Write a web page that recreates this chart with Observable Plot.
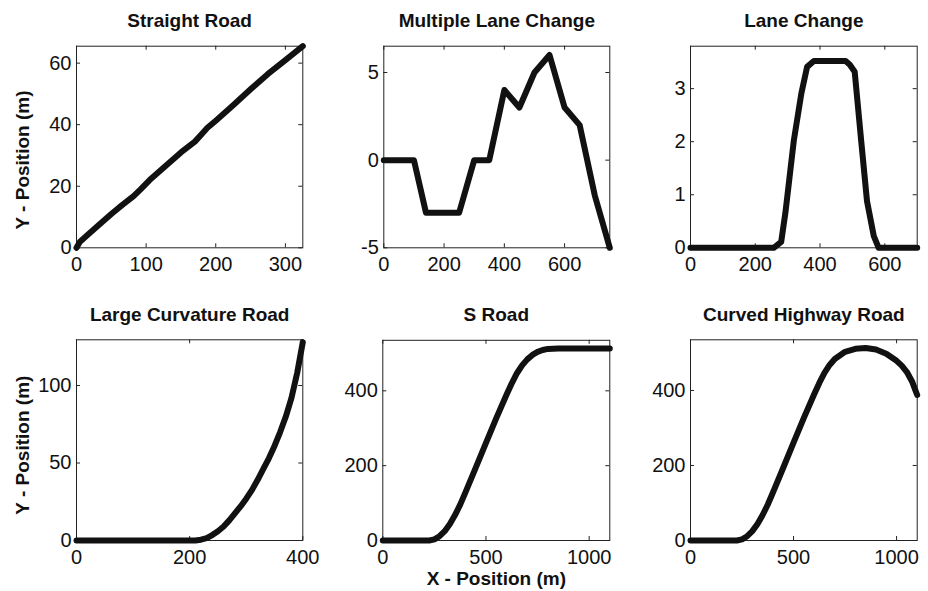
<!DOCTYPE html>
<html>
<head>
<meta charset="utf-8">
<script src="https://cdn.jsdelivr.net/npm/d3@7"></script>
<script src="https://cdn.jsdelivr.net/npm/@observablehq/plot@0.6"></script>
<style>
  html, body { margin: 0; padding: 0; background: #fff; }
  #chart { position: relative; width: 928px; height: 591px; overflow: hidden; }
  #chart svg { position: absolute; overflow: visible; }
</style>
</head>
<body>
<div id="chart"></div>
<script>
// ---- Data ----
const titles = ["Straight Road", "Multiple Lane Change", "Lane Change", "Large Curvature Road", "S Road", "Curved Highway Road"];
const yAxisLabel = "Y - Position (m)";
const xAxisLabel = "X - Position (m)";

const straightX = [0, 5, 15, 30, 50, 65, 82, 92, 105, 125, 150, 170, 180, 188, 200, 225, 250, 275, 300, 325];
const straightY = [0, 2, 4, 7, 11, 13.8, 16.8, 19, 22, 26, 31, 34.5, 37, 39, 41.3, 46.3, 51.5, 56.5, 61, 65.5];

const multiX = [0, 100, 140, 250, 300, 350, 400, 450, 500, 550, 600, 650, 700, 750];
const multiY = [0, 0, -3, -3, 0, 0, 4, 3, 5, 6, 3, 2, -2, -5];

const laneX = [0, 257, 280, 293, 319, 342, 360, 381, 479, 492, 507, 527, 545, 566, 581, 700];
const laneY = [0, 0, 0.11, 0.66, 2.02, 2.9, 3.41, 3.52, 3.52, 3.45, 3.32, 2.02, 0.88, 0.22, 0, 0];

const curvX = [0, 100, 200, 210, 220, 230, 240, 250, 260, 270, 280, 290, 300, 310, 320, 330, 340, 350, 360, 370, 380, 390, 400];
const curvY = [0, 0, 0, 0, 0.5, 1.5, 3.5, 6, 9, 13, 17.5, 22, 27, 32.5, 39, 46, 53, 61, 70, 80, 92, 108, 128];

const sRoadX = [0, 200, 225, 250, 275, 300, 325, 350, 375, 400, 450, 500, 550, 600, 625, 650, 675, 700, 725, 750, 775, 800, 850, 1100];
const sRoadY = [0, 0, 0, 3, 11.5, 25, 44, 68, 96, 128, 194, 261, 327, 390, 420, 447, 468, 484, 496, 504, 509, 512, 513, 513];

const hwyX = [0, 200, 225, 250, 275, 300, 325, 350, 375, 400, 450, 500, 550, 600, 625, 650, 675, 700, 750, 800, 850, 900, 950, 1000, 1025, 1050, 1075, 1100];
const hwyY = [0, 0, 0, 3, 11.5, 25, 44, 68, 96, 128, 194, 261, 327, 390, 420, 447, 468, 484, 503, 511, 513, 509, 498, 479, 466, 449, 424, 388];

const xTicks1 = [0, 100, 200, 300];
const yTicks1 = [0, 20, 40, 60];
const xTicks2 = [0, 200, 400, 600];
const yTicks2 = [-5, 0, 5];
const xTicks3 = [0, 200, 400, 600];
const yTicks3 = [0, 1, 2, 3];
const xTicks4 = [0, 200, 400];
const yTicks4 = [0, 50, 100];
const xTicks5 = [0, 500, 1000];
const yTicks5 = [0, 200, 400];
const xTicks6 = [0, 500, 1000];
const yTicks6 = [0, 200, 400];

// ---- Layout ----
const font = "'Liberation Sans', Arial, Helvetica, sans-serif";
const ink = "#111";
const frameInk = "#222";

const cols = [[0, 309], [309, 619], [619, 928]];
const rows = [[0, 290], [290, 591]];

const panels = [
  {t: 0, xs: straightX, ys: straightY, xd: [0, 325], yd: [0, 65.5], xt: xTicks1, yt: yTicks1, c: 0, r: 0, f: [76, 45.7, 302.3, 247.3], ylab: true, ylabDy: 13},
  {t: 1, xs: multiX, ys: multiY, xd: [0, 750], yd: [-5, 6.5], xt: xTicks2, yt: yTicks2, c: 1, r: 0, f: [383.3, 45.7, 609.3, 247.3]},
  {t: 2, xs: laneX, ys: laneY, xd: [0, 700], yd: [0, 3.8], xt: xTicks3, yt: yTicks3, c: 2, r: 0, f: [690, 45.7, 916.7, 247.3]},
  {t: 3, xs: curvX, ys: curvY, xd: [0, 400], yd: [0, 129.5], xt: xTicks4, yt: yTicks4, c: 0, r: 1, f: [76, 339.3, 302.3, 540], ylab: true, ylabDy: 5},
  {t: 4, xs: sRoadX, ys: sRoadY, xd: [0, 1100], yd: [0, 535], xt: xTicks5, yt: yTicks5, c: 1, r: 1, f: [382.3, 339.8, 609.3, 540], xlab: true},
  {t: 5, xs: hwyX, ys: hwyY, xd: [0, 1100], yd: [0, 535], xt: xTicks6, yt: yTicks6, c: 2, r: 1, f: [690, 339.3, 916.7, 540]}
];

const chart = document.getElementById("chart");
const fmt = d => String(d);

for (const p of panels) {
  const [cx0, cx1] = cols[p.c];
  const [ry0, ry1] = rows[p.r];
  const width = cx1 - cx0;
  const height = ry1 - ry0;
  const marginLeft = p.f[0] - cx0;
  const marginRight = cx1 - p.f[2];
  const marginTop = p.f[1] - ry0;
  const marginBottom = ry1 - p.f[3];
  const innerW = width - marginLeft - marginRight;
  const innerH = height - marginTop - marginBottom;
  const tl = 4;
  const data = p.xs.map((x, i) => ({x, y: p.ys[i]}));

  const marks = [
    Plot.frame({stroke: frameInk, strokeWidth: 1}),
    Plot.tickX(p.xt, {x: d => d, stroke: frameInk, insetTop: innerH - tl}),
    Plot.tickX(p.xt, {x: d => d, stroke: frameInk, insetBottom: innerH - tl}),
    Plot.tickY(p.yt, {y: d => d, stroke: frameInk, insetRight: innerW - tl}),
    Plot.tickY(p.yt, {y: d => d, stroke: frameInk, insetLeft: innerW - tl}),
    Plot.line(data, {x: "x", y: "y", stroke: ink, strokeWidth: 6, strokeLinejoin: "round"}),
    Plot.text([titles[p.t]], {text: d => d, frameAnchor: "top", lineAnchor: "bottom", dy: -19, fontWeight: "bold", fontSize: 19, fill: ink})
  ];
  if (p.ylab) {
    marks.push(Plot.text([yAxisLabel], {text: d => d, frameAnchor: "left", rotate: -90, lineAnchor: "middle", textAnchor: "middle", dx: -54, dy: p.ylabDy, fontWeight: "bold", fontSize: 19, fill: ink}));
  }
  if (p.xlab) {
    marks.push(Plot.text([xAxisLabel], {text: d => d, frameAnchor: "bottom", lineAnchor: "middle", dy: 38, fontWeight: "bold", fontSize: 19, fill: ink}));
  }

  const svg = Plot.plot({
    width, height, marginLeft, marginRight, marginTop, marginBottom,
    style: {fontFamily: font, fontSize: "20px", color: ink, background: "transparent", overflow: "visible"},
    x: {domain: p.xd, ticks: p.xt, tickSize: 0, tickPadding: 9, tickFormat: fmt, label: null},
    y: {domain: p.yd, ticks: p.yt, tickSize: 0, tickPadding: 5, tickFormat: fmt, label: null},
    marks
  });
  svg.style.left = cx0 + "px";
  svg.style.top = ry0 + "px";
  chart.appendChild(svg);
}
</script>
</body>
</html>
